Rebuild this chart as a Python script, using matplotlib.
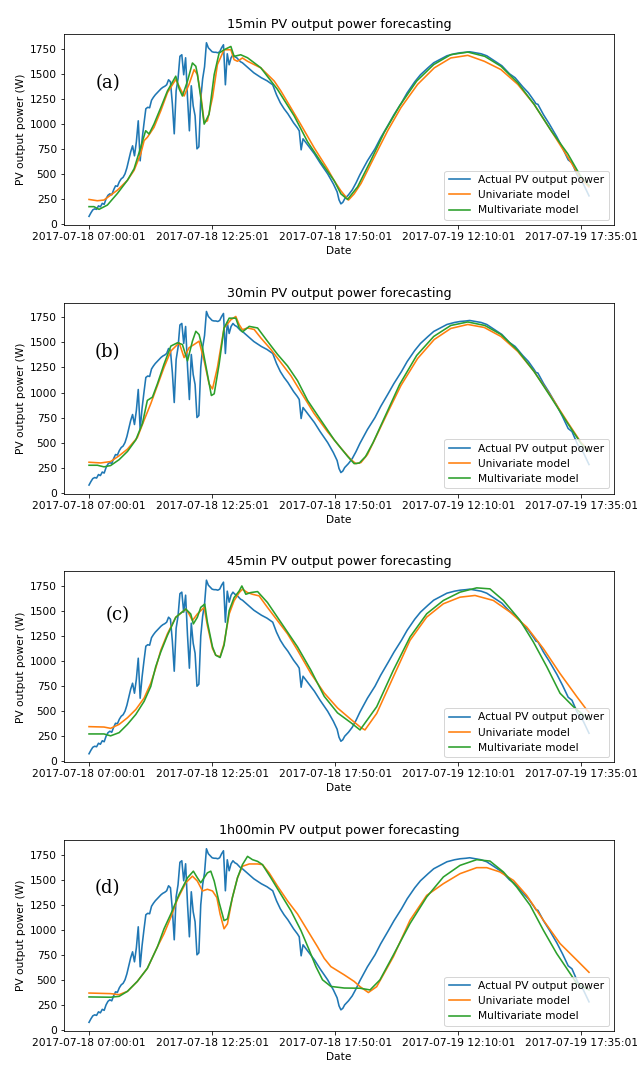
import numpy as np
import matplotlib
matplotlib.use("Agg")
import matplotlib.pyplot as plt

# ---------------- data ----------------
tick_idx = [0, 65, 130, 195, 260]
tick_labels = ["2017-07-18 07:00:01", "2017-07-18 12:25:01", "2017-07-18 17:50:01",
               "2017-07-19 12:10:01", "2017-07-19 17:35:01"]

titles = ["15min PV output power forecasting", "30min PV output power forecasting",
          "45min PV output power forecasting", "1h00min PV output power forecasting"]
panel_tags = ["(a)", "(b)", "(c)", "(d)"]
series_names = ["Actual PV output power", "Univariate model", "Multivariate model"]

# actual PV output (sample index, W)
actual = [(0, 75), (1, 110), (2, 140), (3, 150), (4, 145), (5, 180), (6, 170), (7, 205), (8, 195),
          (9, 250), (10, 285), (11, 300), (12, 290), (13, 340), (14, 380), (15, 375), (16, 420),
          (17, 450), (18, 465), (19, 500), (20, 560), (21, 640), (22, 720), (23, 780), (24, 680),
          (25, 820), (26, 1030), (27, 630), (28, 840), (29, 1000), (30, 1150), (31, 1165),
          (32, 1160), (33, 1235), (34, 1265), (35, 1290), (36, 1310), (37, 1330), (38, 1350),
          (39, 1365), (40, 1375), (41, 1390), (42, 1440), (43, 1420), (44, 1200), (45, 900),
          (46, 1330), (47, 1450), (48, 1675), (49, 1690), (50, 1490), (51, 1660), (52, 1260),
          (53, 930), (54, 1380), (55, 1180), (56, 1080), (57, 750), (58, 770), (59, 1250),
          (60, 1450), (61, 1570), (62, 1810), (63, 1760), (64, 1740), (65, 1720), (66, 1715),
          (67, 1715), (68, 1710), (69, 1720), (70, 1760), (71, 1790), (72, 1390), (73, 1700),
          (74, 1590), (75, 1660), (76, 1690), (77, 1670), (78, 1660), (79, 1640), (80, 1620),
          (81, 1610), (84, 1560), (87, 1510), (91, 1460), (94, 1430), (97, 1390), (99, 1290),
          (101, 1210), (103, 1150), (105, 1100), (108, 1010), (110, 960), (111, 930), (112, 740),
          (113, 850), (115, 800), (119, 700), (122, 610), (126, 500), (129, 400), (131, 320),
          (132, 240), (133, 200), (134, 215), (135, 250), (137, 290), (139, 340), (141, 410),
          (143, 490), (147, 630), (151, 750), (154, 860), (158, 990), (161, 1090), (165, 1210),
          (168, 1310), (172, 1420), (175, 1490), (179, 1560), (182, 1610), (186, 1650),
          (189, 1680), (193, 1700), (196, 1710), (199, 1715), (201, 1720), (204, 1710),
          (207, 1700), (210, 1680), (214, 1630), (218, 1580), (222, 1500), (225, 1460),
          (229, 1370), (232, 1310), (235, 1230), (236, 1200), (237, 1195), (240, 1090),
          (243, 1000), (247, 870), (250, 760), (252, 680), (253, 640), (255, 610), (258, 480),
          (261, 400), (264, 280)]

# 15 min horizon
uni_15 = [(0, 244), (4.4, 231), (7.9, 238), (11.4, 287), (15, 337), (20.3, 436), (23.8, 535),
          (27.3, 700), (29.1, 832), (30.8, 865), (34.3, 964), (37.9, 1130), (41.4, 1311),
          (45.8, 1443), (48.4, 1344), (50.2, 1278), (52.8, 1394), (55.5, 1542), (57.2, 1493),
          (59, 1295), (60.8, 1014), (62.5, 1030), (65.2, 1262), (67.8, 1592), (71.3, 1740),
          (74.9, 1740), (76.6, 1641), (78.4, 1625), (81, 1658), (83.7, 1625), (90.7, 1559),
          (97.8, 1427), (101.3, 1328), (106.6, 1160), (111.9, 990), (118.9, 760), (125.9, 550),
          (129.5, 430), (133, 330), (137, 238), (140, 300), (143.6, 403), (150.6, 667),
          (157.7, 931), (164.7, 1162), (173.5, 1394), (182.3, 1559), (191, 1658), (200, 1684),
          (208.7, 1625), (217.5, 1542), (226.4, 1394), (235, 1195), (244, 931), (252.8, 667),
          (259.8, 452), (264, 370)]
multi_15 = [(0, 172), (2.6, 172), (5.3, 145), (9.7, 188), (15, 304), (20.3, 436), (23.8, 551),
            (27.3, 766), (29.9, 931), (31.7, 898), (34.3, 997), (37.9, 1162), (41.4, 1328),
            (45.8, 1476), (47.6, 1350), (49.3, 1278), (52, 1427), (54.6, 1608), (56.4, 1575),
            (57.2, 1500), (59, 1262), (60.8, 997), (63.4, 1096), (66.1, 1493), (68.7, 1707),
            (71.3, 1740), (74.9, 1773), (76.6, 1674), (80.1, 1690), (83.7, 1660), (90.7, 1560),
            (99.5, 1344), (108.3, 1080), (115.4, 820), (122.4, 620), (129.5, 430), (133, 300),
            (136.5, 244), (141.8, 370), (148.8, 634), (155.9, 915), (164, 1179), (173, 1427),
            (182, 1592), (191, 1691), (200, 1717), (209, 1674), (217.5, 1575), (226.4, 1410),
            (235, 1195), (244, 931), (252.8, 700), (259.8, 469), (264, 386)]

# 30 min horizon
uni_30 = [(0, 303), (6.2, 296), (11.4, 310), (15.9, 368), (20.3, 434), (25.5, 549), (29.1, 724),
          (32.6, 888), (36.1, 1069), (39.6, 1250), (43.2, 1414), (47.6, 1497), (50.2, 1349),
          (52.8, 1447), (55.5, 1480), (58.1, 1513), (60.8, 1316), (63.4, 1086), (65.2, 1036),
          (67.8, 1250), (71.3, 1645), (74.9, 1727), (77.5, 1760), (79.3, 1678), (81, 1628),
          (83.7, 1645), (87.2, 1630), (90.7, 1546), (96, 1431), (101.3, 1299), (106.6, 1168),
          (111.9, 1003), (118.9, 789), (125.9, 609), (133, 444), (138.3, 329), (140.9, 289),
          (143.6, 300), (147, 380), (150.6, 520), (157.7, 800), (164.7, 1070), (173.5, 1340),
          (182.3, 1530), (191, 1640), (200, 1680), (208.7, 1650), (217.5, 1560), (226.4, 1410),
          (235, 1210), (244, 960), (252.8, 700), (259.8, 500), (264, 420)]
multi_30 = [(0, 273), (4.4, 273), (7.9, 257), (11.4, 270), (15.9, 329), (20.3, 411), (24.7, 526),
            (28.2, 691), (30.8, 921), (33.5, 954), (36.1, 1086), (39.6, 1283), (43.2, 1464),
            (46.7, 1497), (49.3, 1480), (52, 1316), (54.6, 1513), (56.4, 1612), (58.1, 1579),
            (59.9, 1447), (62.5, 1184), (64.6, 970), (66.1, 987), (68.7, 1283), (71.3, 1645),
            (74, 1743), (77.5, 1743), (79.3, 1645), (81, 1605), (84.6, 1661), (89, 1645),
            (94.2, 1513), (99.5, 1382), (104.8, 1266), (110.1, 1118), (115.4, 921), (122.4, 724),
            (129.5, 526), (136.5, 362), (140, 289), (142.7, 295), (146, 360), (150, 500),
            (157, 790), (164, 1080), (173, 1370), (182, 1560), (191, 1670), (200, 1705),
            (209, 1670), (217.5, 1580), (226.4, 1420), (235, 1210), (244, 950), (252.8, 690),
            (259.8, 490), (264, 410)]

# 45 min horizon
uni_45 = [(0, 346), (7.9, 342), (11.4, 329), (15.9, 369), (20.3, 435), (24.7, 517), (29.1, 632),
          (32.6, 780), (35.2, 929), (37.9, 1110), (41.4, 1274), (45.8, 1439), (51.1, 1521),
          (52.8, 1472), (54.6, 1406), (57.2, 1472), (59, 1505), (60.8, 1538), (62.5, 1357),
          (65.2, 1126), (66.9, 1060), (69.2, 1044), (71.3, 1175), (74, 1472), (76.6, 1604),
          (79.3, 1686), (81, 1719), (83.7, 1686), (86.3, 1669), (89.8, 1653), (94.2, 1538),
          (99.5, 1406), (104.8, 1274), (110.1, 1110), (117.1, 879), (124.2, 682), (131.2, 533),
          (138.3, 418), (143.6, 336), (145.7, 313), (151.9, 478), (160.7, 844), (169.5, 1209),
          (178.3, 1441), (187.1, 1574), (195.9, 1640), (203.8, 1657), (213.5, 1607),
          (222.3, 1491), (231.1, 1342), (239.9, 1126), (248.7, 877), (257.5, 647), (262.8, 514),
          (264, 490)]
multi_45 = [(0, 273), (7.9, 273), (11.4, 254), (15.9, 286), (20.3, 369), (24.7, 468), (29.1, 599),
            (32.6, 747), (35.2, 945), (37.9, 1093), (41.4, 1258), (45.8, 1439), (51.1, 1521),
            (53.7, 1472), (55.1, 1373), (57.2, 1439), (59, 1538), (61.1, 1571), (62.5, 1390),
            (65.2, 1143), (66.9, 1060), (69.2, 1037), (71.3, 1159), (74, 1505), (76.6, 1636),
            (79.3, 1702), (80.7, 1752), (82.8, 1669), (85.4, 1686), (89, 1696), (94.2, 1587),
            (99.5, 1439), (104.8, 1291), (110.1, 1143), (117.1, 912), (124.2, 649), (131.2, 484),
            (138.3, 385), (143.1, 313), (151.9, 545), (160.7, 910), (169.5, 1242), (178.3, 1474),
            (187.1, 1607), (195.9, 1690), (204.7, 1733), (211.7, 1723), (218.8, 1607),
            (227.6, 1408), (234.6, 1193), (241.7, 945), (248.7, 680), (255.7, 547), (264, 415)]

# 1h00 horizon
uni_60 = [(0, 368), (11.4, 362), (15.9, 352), (20.3, 385), (25.5, 484), (30.8, 615), (36.1, 829),
          (39.6, 961), (43.2, 1125), (46.7, 1306), (51.1, 1470), (54.6, 1536), (57.2, 1487),
          (59.9, 1388), (62.5, 1405), (65.2, 1388), (67.5, 1322), (69.2, 1158), (71.3, 1010),
          (73.1, 1059), (75.7, 1322), (78.4, 1520), (81, 1635), (84.6, 1658), (89, 1658),
          (91.6, 1651), (95.1, 1569), (99.5, 1437), (104.8, 1289), (110.1, 1158), (115.4, 993),
          (120.7, 829), (124.2, 714), (127.7, 632), (134.8, 549), (140, 484), (143.1, 432),
          (147.5, 373), (151.9, 432), (160.7, 731), (169.5, 1096), (178.3, 1344), (187.1, 1461),
          (195.9, 1561), (204.7, 1621), (210, 1621), (217, 1578), (224.1, 1494), (231.1, 1344),
          (239.9, 1096), (248.7, 863), (257.5, 698), (264, 575)]
multi_60 = [(0, 329), (11.4, 326), (15.9, 335), (20.3, 385), (25.5, 484), (30.8, 615), (36.1, 829),
            (39.6, 1010), (43.2, 1158), (47.6, 1355), (52, 1520), (55.1, 1586), (57.2, 1520),
            (59, 1470), (62.5, 1569), (64.3, 1586), (66.1, 1487), (68.7, 1273), (71.3, 1092),
            (73.1, 1109), (75.7, 1322), (78.4, 1520), (81, 1651), (83.7, 1734), (86.3, 1701),
            (89, 1684), (91.6, 1651), (96, 1520), (101.3, 1355), (106.6, 1191), (111.9, 993),
            (116.3, 796), (119.8, 632), (123.3, 500), (127.7, 434), (134.8, 418), (143.1, 416),
            (148.4, 399), (153.6, 499), (160.7, 748), (169.5, 1063), (178.3, 1328), (187.1, 1528),
            (195.9, 1644), (204.7, 1701), (211.7, 1687), (218.8, 1578), (225.8, 1428),
            (232.9, 1245), (239.9, 996), (246.9, 764), (252.2, 615), (257.5, 465), (264, 399)]

univariate = [uni_15, uni_30, uni_45, uni_60]
multivariate = [multi_15, multi_30, multi_45, multi_60]

# ---------------- figure ----------------
DPI = 72
fig = plt.figure(figsize=(637 / DPI, 1065 / DPI), dpi=DPI)

left, width, height = 0.1005, 0.8634, 0.1793
bottoms = [0.7887, 0.5364, 0.2841, 0.0319]
tag_pos = [(0.080, 0.743), (0.078, 0.744), (0.098, 0.770), (0.078, 0.749)]

colors = ["#1f77b4", "#ff7f0e", "#2ca02c"]
FS = 10.6

ax_, ay_ = np.array(actual, dtype=float).T
for k in range(4):
    ax = fig.add_axes([left, bottoms[k], width, height])
    ux, uy = np.array(univariate[k], dtype=float).T
    mx, my = np.array(multivariate[k], dtype=float).T
    ax.plot(ax_, ay_, color=colors[0], lw=1.6, label=series_names[0])
    ax.plot(ux, uy, color=colors[1], lw=1.6, label=series_names[1])
    ax.plot(mx, my, color=colors[2], lw=1.6, label=series_names[2])
    ax.set_xticks(tick_idx)
    ax.set_xticklabels(tick_labels)
    ax.set_yticks([0, 250, 500, 750, 1000, 1250, 1500, 1750])
    ax.tick_params(labelsize=FS)
    ax.set_title(titles[k], fontsize=12.6)
    ax.set_xlabel("Date", fontsize=FS)
    ax.set_ylabel("PV output power (W)", fontsize=FS)
    ax.legend(loc="lower right", fontsize=FS)
    ax.text(tag_pos[k][0], tag_pos[k][1], panel_tags[k], transform=ax.transAxes,
            ha="center", va="center", fontsize=18, family="DejaVu Serif")

fig.savefig("out.png", dpi=DPI)
